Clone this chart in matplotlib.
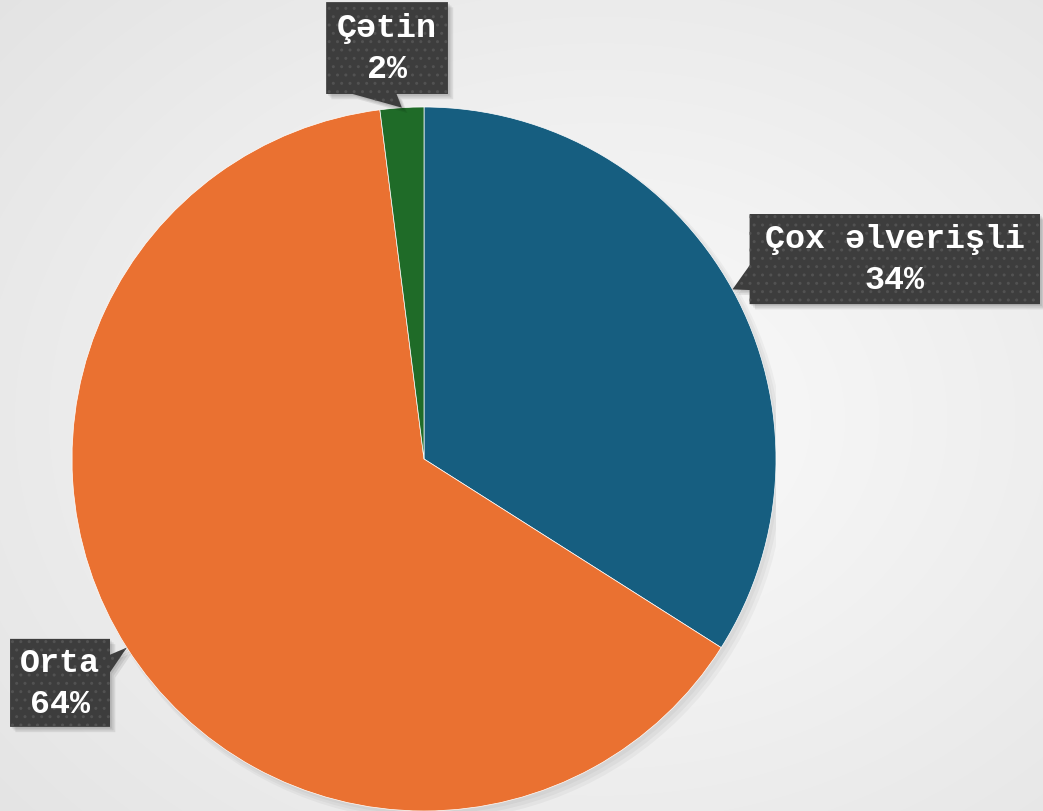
import numpy as np
import matplotlib.pyplot as plt
from matplotlib.patches import Polygon

# Chart data
labels = ['Çox əlverişli', 'Orta', 'Çətin']
shares = [34, 64, 2]
colors = ['#165e80', '#ea7131', '#1f6b28']

FONT = ['Liberation Mono', 'DejaVu Sans Mono']

# box layout in pie data units: (x0, x1), (y0, y1), side where pointer leaves
boxes = {
    'Çox əlverişli': ((0.925, 1.75), (0.44, 0.696), 'left'),
    'Orta': ((-1.176, -0.892), (-0.761, -0.511), 'right'),
    'Çətin': ((-0.278, 0.068), (1.037, 1.298), 'bottom'),
}


def callout_shape(xr, yr, side, tip):
    x0, x1 = xr
    y0, y1 = yr
    if side == 'left':
        pts = [(x0, y1), (x1, y1), (x1, y0), (x0, y0),
               (x0, y0 + 0.04), tip, (x0, y0 + 0.11)]
    elif side == 'right':
        pts = [(x0, y1), (x1, y1), (x1, y1 - 0.045), tip,
               (x1, y1 - 0.095), (x1, y0), (x0, y0)]
    else:
        pts = [(x0, y1), (x1, y1), (x1, y0), (x0 + 0.2, y0),
               tip, (x0 + 0.075, y0), (x0, y0)]
    return pts


fig = plt.figure(figsize=(10.43, 8.12), dpi=100)

# radial gradient background
bg = fig.add_axes([0, 0, 1, 1], zorder=0)
yy, xx = np.mgrid[0:812, 0:1043]
d = np.hypot((xx - 600) / 1043, (yy - 420) / 812)
shade = 0.985 - 0.12 * d
bg.imshow(np.dstack([shade] * 3), aspect='auto', extent=[0, 1, 0, 1])
bg.axis('off')

ax = fig.add_axes([72 / 1043, 0, 704 / 1043, 704 / 812], zorder=1)
ax.patch.set_alpha(0)

# soft shadow under the pie
for k in range(3):
    sh = plt.Circle((0.008 + 0.005 * k, -0.01 - 0.005 * k), 1.0 + 0.004 * k,
                    color='black', alpha=0.035, lw=0, zorder=1)
    ax.add_patch(sh)

wedges, _ = ax.pie(shares, colors=colors, startangle=90, counterclock=False,
                   radius=1.0, wedgeprops=dict(linewidth=0.5, edgecolor='white'))
for w in wedges:
    w.set_zorder(2)

for w, lab, val in zip(wedges, labels, shares):
    mid = np.deg2rad((w.theta1 + w.theta2) / 2)
    tip = (np.cos(mid) * 1.0, np.sin(mid) * 1.0)
    xr, yr, side = boxes[lab]
    pts = callout_shape(xr, yr, side, tip)
    for k in range(3):
        off = 0.005 + 0.005 * k
        shp = Polygon([(px + off, py - off) for px, py in pts], closed=True,
                      facecolor='black', alpha=0.08, lw=0, zorder=3, clip_on=False)
        ax.add_patch(shp)
    box = Polygon(pts, closed=True, facecolor='#3d3d3d', lw=0, zorder=4, clip_on=False)
    ax.add_patch(box)
    dots = Polygon(pts, closed=True, facecolor='none', edgecolor='#525252',
                   hatch='..', lw=0, zorder=5, clip_on=False)
    ax.add_patch(dots)
    cx = (xr[0] + xr[1]) / 2
    cy = (yr[0] + yr[1]) / 2
    ax.text(cx, cy, f'{lab}\n{val}%', ha='center', va='center', color='white',
            fontsize=24, fontweight='bold', family=FONT, linespacing=1.42,
            zorder=6, clip_on=False)

ax.set_xlim(-1, 1)
ax.set_ylim(-1, 1)
ax.set_aspect('equal')
ax.axis('off')

plt.savefig('out.png', dpi=100)
plt.close()
